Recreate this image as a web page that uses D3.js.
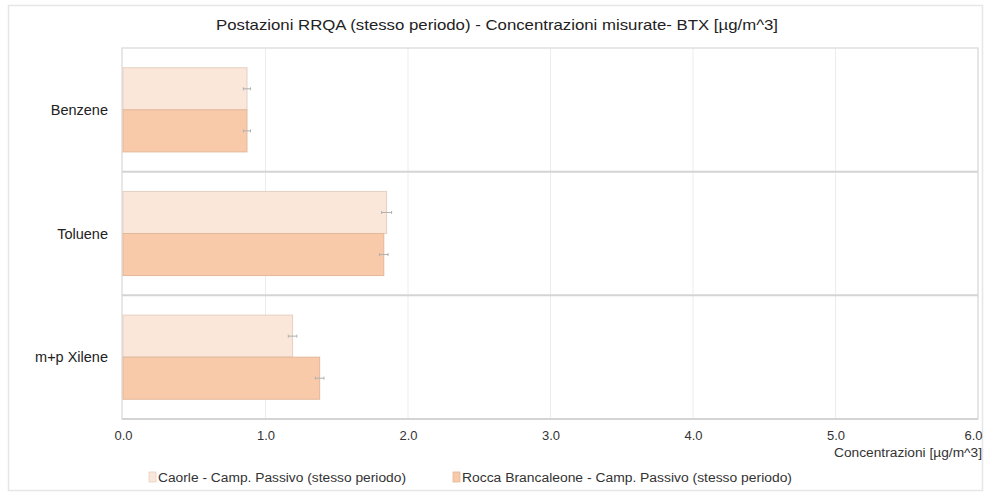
<!DOCTYPE html>
<html>
<head>
<meta charset="utf-8">
<script src="https://cdn.jsdelivr.net/npm/d3@7"></script>
<style>
  html, body { margin: 0; padding: 0; background: #fff; }
  svg { display: block; font-family: "Liberation Sans", Arial, sans-serif; }
</style>
</head>
<body>
<svg id="chart" width="987" height="492"></svg>
<script>
// Pollutants and measured concentrations (µg/m^3)
const categories = ["Benzene", "Toluene", "m+p Xilene"];
const seriesNames = [
  "Caorle - Camp. Passivo (stesso periodo)",
  "Rocca Brancaleone - Camp. Passivo (stesso periodo)"
];
const caorleValues = [0.87, 1.85, 1.19];
const roccaValues  = [0.87, 1.83, 1.38];
const caorleErrors = [0.025, 0.035, 0.03];
const roccaErrors  = [0.025, 0.03, 0.03];
const xTicks = [0, 1, 2, 3, 4, 5, 6];
const title = "Postazioni RRQA (stesso periodo) - Concentrazioni misurate- BTX [µg/m^3]";
const xAxisTitle = "Concentrazioni  [µg/m^3]";

const colors = ["#fbe6da", "#f8caa9"];
const strokes = ["#e3cfc4", "#e2b89a"];

const svg = d3.select("#chart");
const plot = { left: 122, right: 978, top: 48, bottom: 419 };

// outer frame
svg.append("rect")
  .attr("x", 8.5).attr("y", 5.5).attr("width", 974).attr("height", 485)
  .attr("fill", "#fff").attr("stroke", "#e6e6e6").attr("stroke-width", 1.5);

// title
svg.append("text")
  .attr("x", 497).attr("y", 30)
  .attr("text-anchor", "middle")
  .attr("font-size", 15).attr("fill", "#222")
  .attr("textLength", 562).attr("lengthAdjust", "spacingAndGlyphs")
  .text(title);

const x = d3.scaleLinear().domain([0, 6]).range([plot.left + 1, plot.right]);
const y = d3.scaleBand().domain(categories).range([plot.top, plot.bottom]).paddingInner(0).paddingOuter(0);
const inner = d3.scaleBand().domain([0, 1]).range([0, y.bandwidth()]).paddingOuter(0.47).paddingInner(0);

// vertical gridlines
svg.append("g").selectAll("line")
  .data(xTicks.slice(1))
  .join("line")
  .attr("x1", d => x(d)).attr("x2", d => x(d))
  .attr("y1", plot.top).attr("y2", plot.bottom)
  .attr("stroke", "#ececec").attr("stroke-width", 1);

// plot frame
svg.append("rect")
  .attr("x", plot.left).attr("y", plot.top)
  .attr("width", plot.right - plot.left).attr("height", plot.bottom - plot.top)
  .attr("fill", "none").attr("stroke", "#e0e0e0").attr("stroke-width", 1.5);

// category separators
svg.append("g").selectAll("line")
  .data(categories.slice(1))
  .join("line")
  .attr("x1", plot.left).attr("x2", plot.right)
  .attr("y1", d => y(d)).attr("y2", d => y(d))
  .attr("stroke", "#d4d4d4").attr("stroke-width", 2);

// bottom axis line
svg.append("line")
  .attr("x1", plot.left).attr("x2", plot.right)
  .attr("y1", plot.bottom).attr("y2", plot.bottom)
  .attr("stroke", "#d4d4d4").attr("stroke-width", 2);

const series = [
  { values: caorleValues, errors: caorleErrors },
  { values: roccaValues, errors: roccaErrors }
];

series.forEach((s, si) => {
  const g = svg.append("g");
  g.selectAll("rect")
    .data(categories)
    .join("rect")
    .attr("x", x(0))
    .attr("y", d => y(d) + inner(si))
    .attr("width", (d, i) => x(s.values[i]) - x(0))
    .attr("height", inner.bandwidth())
    .attr("fill", colors[si])
    .attr("stroke", strokes[si]).attr("stroke-width", 1);

  // error bars
  const eb = g.append("g").attr("stroke", "#b0b0b0").attr("stroke-width", 1);
  categories.forEach((c, i) => {
    const cy = y(c) + inner(si) + inner.bandwidth() / 2;
    const x0 = x(s.values[i] - s.errors[i]), x1 = x(s.values[i] + s.errors[i]);
    eb.append("line").attr("x1", x0).attr("x2", x1).attr("y1", cy).attr("y2", cy);
    eb.append("line").attr("x1", x0).attr("x2", x0).attr("y1", cy - 1.5).attr("y2", cy + 1.5);
    eb.append("line").attr("x1", x1).attr("x2", x1).attr("y1", cy - 1.5).attr("y2", cy + 1.5);
  });
});

// category labels
svg.append("g").selectAll("text")
  .data(categories)
  .join("text")
  .attr("x", 108)
  .attr("y", d => y(d) + y.bandwidth() / 2 + 5)
  .attr("text-anchor", "end")
  .attr("font-size", 14.5).attr("fill", "#222")
  .text(d => d);

// x tick labels
const xAxis = d3.axisBottom(x).tickValues(xTicks).tickFormat(d3.format(".1f")).tickSize(0).tickPadding(0);
const ax = svg.append("g").attr("transform", `translate(0, ${plot.bottom + 12})`).call(xAxis);
ax.select(".domain").remove();
ax.selectAll("text")
  .attr("font-size", 13).attr("fill", "#333")
  .attr("font-family", "'Liberation Sans', Arial, sans-serif");
ax.selectAll(".tick text").attr("text-anchor", "middle");
// last tick is drawn right-aligned at the edge
ax.selectAll(".tick text").filter(d => d === 6).attr("text-anchor", "end").attr("dx", 4);

// x axis title
svg.append("text")
  .attr("x", 982).attr("y", 457)
  .attr("text-anchor", "end")
  .attr("font-size", 12).attr("fill", "#333")
  .attr("textLength", 148).attr("lengthAdjust", "spacingAndGlyphs")
  .text(xAxisTitle);

// legend
const legendX = [149, 453];
const legendLen = [248, 330];
seriesNames.forEach((name, i) => {
  const g = svg.append("g").attr("transform", `translate(${legendX[i]}, 482)`);
  g.append("rect").attr("x", 0).attr("y", -10).attr("width", 7).attr("height", 10)
    .attr("fill", colors[i]).attr("stroke", strokes[i]).attr("stroke-width", 0.8);
  g.append("text").attr("x", 9).attr("y", 0)
    .attr("font-size", 12).attr("fill", "#333")
    .attr("textLength", legendLen[i]).attr("lengthAdjust", "spacingAndGlyphs")
    .text(name);
});
</script>
</body>
</html>
